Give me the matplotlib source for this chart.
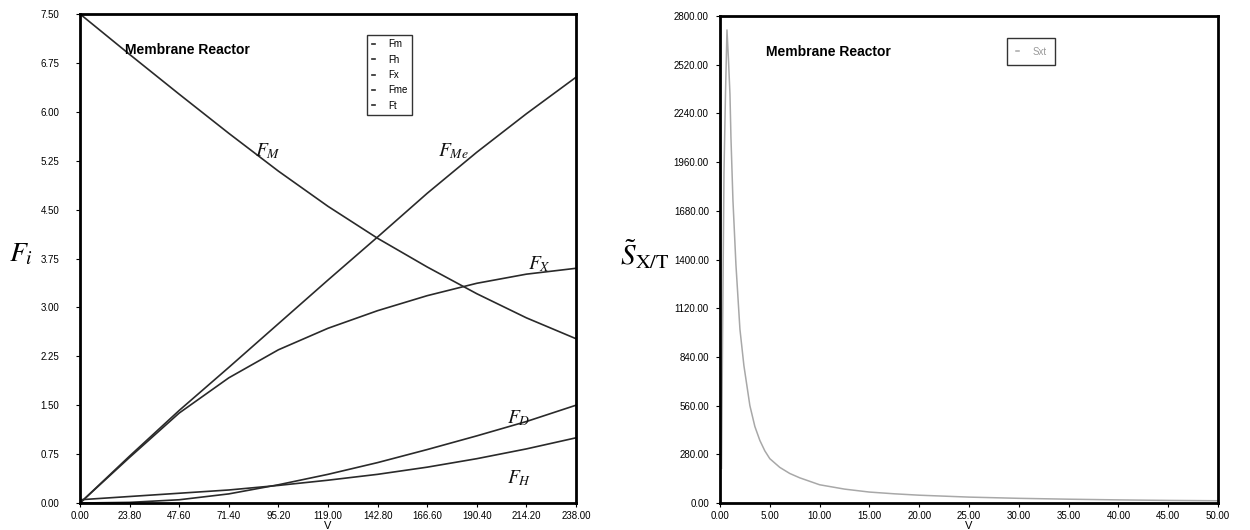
import matplotlib
matplotlib.use("Agg")
import matplotlib.pyplot as plt

# left panel: molar flows along reactor volume
V = [0, 23.8, 47.6, 71.4, 95.2, 119, 142.8, 166.6, 190.4, 214.2, 238]
Fm = [7.5, 6.88, 6.27, 5.67, 5.09, 4.55, 4.06, 3.62, 3.21, 2.84, 2.52]
Fme = [0.0, 0.72, 1.42, 2.08, 2.75, 3.42, 4.08, 4.75, 5.38, 5.97, 6.53]
Fx = [0.0, 0.7, 1.38, 1.92, 2.35, 2.68, 2.95, 3.18, 3.37, 3.51, 3.6]
Fd = [0.0, 0.01, 0.05, 0.14, 0.28, 0.44, 0.62, 0.82, 1.03, 1.25, 1.5]
Fh = [0.05, 0.1, 0.15, 0.2, 0.27, 0.35, 0.44, 0.55, 0.68, 0.83, 1.0]
left_names = ["Fm", "Fh", "Fx", "Fme", "Ft"]
left_ticks_x = [0, 23.8, 47.6, 71.4, 95.2, 119, 142.8, 166.6, 190.4, 214.2, 238]
left_ticks_y = [0, 0.75, 1.5, 2.25, 3.0, 3.75, 4.5, 5.25, 6.0, 6.75, 7.5]

# right panel: selectivity
V2 = [0.15, 0.25, 0.4, 0.55, 0.7, 0.85, 1.0, 1.1, 1.3, 1.6, 2.0, 2.4, 3.0, 3.5, 4.0,
      4.5, 5.0, 6.0, 7.0, 8.0, 10, 12.5, 15, 17.5, 20, 25, 30, 35, 40, 45, 50]
Sxt = [200, 900, 1900, 2350, 2720, 2550, 2350, 2100, 1740, 1370, 1000, 790, 560, 440, 360,
       300, 255, 205, 170, 145, 105, 80, 63, 53, 45, 34, 27, 22, 18, 15, 13]
right_ticks_x = [0, 5, 10, 15, 20, 25, 30, 35, 40, 45, 50]
right_ticks_y = [0, 280, 560, 840, 1120, 1400, 1680, 1960, 2240, 2520, 2800]

plt.rcParams['font.family'] = ['Liberation Sans', 'DejaVu Sans']
plt.rcParams['mathtext.fontset'] = 'stix'

fig = plt.figure(figsize=(12.5, 5.3), dpi=100)
ax1 = fig.add_axes([0.064, 0.0509, 0.3968, 0.9227])
ax2 = fig.add_axes([0.576, 0.0509, 0.3984, 0.9189])

lc = "#2a2a2a"
for ys, nm in zip([Fm, Fh, Fx, Fme, Fd], left_names):
    ax1.plot(V, ys, color=lc, lw=1.2, label=nm)
ax1.set_xlim(0, 238)
ax1.set_ylim(0, 7.5)
ax1.set_xticks(left_ticks_x)
ax1.set_xticklabels(["%.2f" % t for t in left_ticks_x])
ax1.set_yticks(left_ticks_y)
ax1.set_yticklabels(["%.2f" % t for t in left_ticks_y])
ax1.set_xlabel("V", fontsize=8, labelpad=0)
ax1.text(0.091, 0.926, "Membrane Reactor", transform=ax1.transAxes,
         fontsize=10, fontweight="bold", va="center")
leg1 = ax1.legend(loc="upper left", bbox_to_anchor=(0.579, 0.957), fontsize=7,
                  handlelength=0.4, handletextpad=1.3, borderpad=0.45, labelspacing=0.55,
                  frameon=True, fancybox=False, edgecolor="black", borderaxespad=0)
leg1.get_frame().set_linewidth(1.0)

hand = dict(fontsize=14, color="#111111", style="italic")
ax1.text(84, 5.32, "$F_{M}$", **hand)
ax1.text(172, 5.32, "$F_{Me}$", **hand)
ax1.text(215, 3.58, "$F_{X}$", **hand)
ax1.text(205, 1.22, "$F_{D}$", **hand)
ax1.text(205, 0.3, "$F_{H}$", **hand)

ax2.plot(V2, Sxt, color="#a8a8a8", lw=1.1, label="Sxt")
ax2.set_xlim(0, 50)
ax2.set_ylim(0, 2800)
ax2.set_xticks(right_ticks_x)
ax2.set_xticklabels(["%.2f" % t for t in right_ticks_x])
ax2.set_yticks(right_ticks_y)
ax2.set_yticklabels(["%.2f" % t for t in right_ticks_y])
ax2.set_xlabel("V", fontsize=8, labelpad=0)
ax2.text(0.092, 0.926, "Membrane Reactor", transform=ax2.transAxes,
         fontsize=10, fontweight="bold", va="center")
leg2 = ax2.legend(loc="upper left", bbox_to_anchor=(0.576, 0.955), fontsize=7,
                  handlelength=0.4, handletextpad=1.3, borderpad=0.9,
                  frameon=True, fancybox=False, edgecolor="black", borderaxespad=0,
                  labelcolor="#999999")
leg2.get_frame().set_linewidth(1.0)

for ax in (ax1, ax2):
    for s in ax.spines.values():
        s.set_linewidth(2.0)
    ax.tick_params(axis="both", labelsize=7, length=3, width=0.8, direction="out")
    ax.tick_params(axis="x", pad=3)
ax1.tick_params(axis="y", pad=12)
ax2.tick_params(axis="y", pad=5)

fig.text(0.017, 0.52, "$F_i$", fontsize=20, ha="center", va="center")
fig.text(0.516, 0.52, r"$\tilde{S}_{\mathrm{X/T}}$", fontsize=21, ha="center", va="center")

fig.savefig("out.png", dpi=100)
